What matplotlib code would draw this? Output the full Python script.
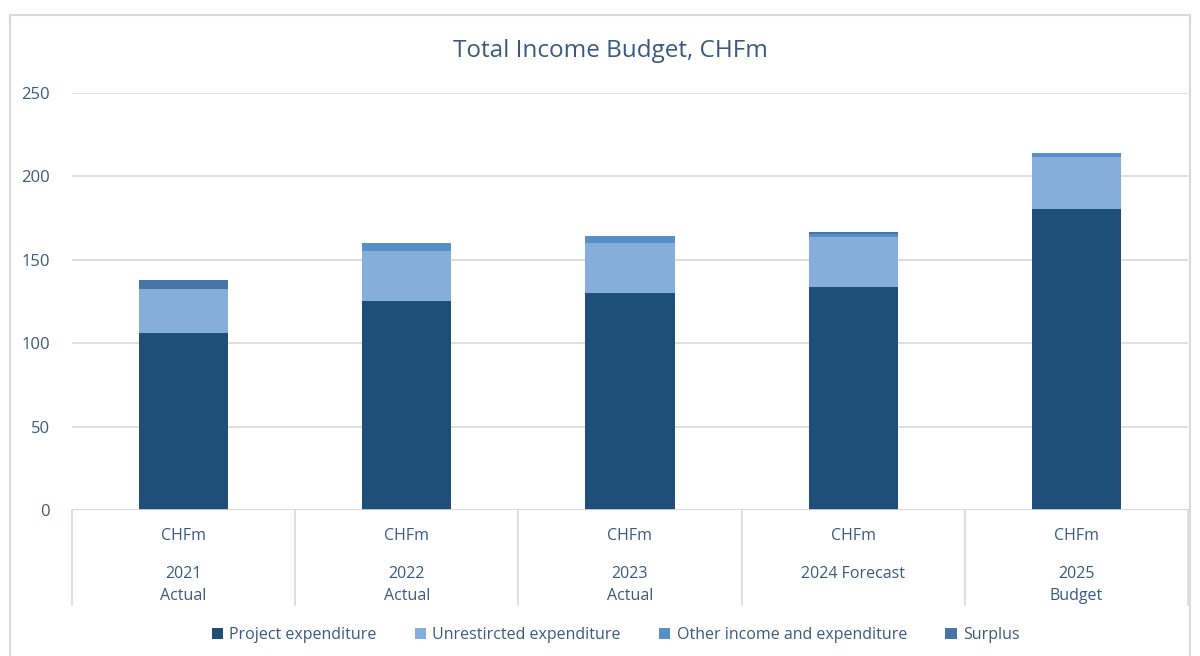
"""Stacked bar chart of the total income budget, CHFm."""

import matplotlib

matplotlib.use("Agg")
import matplotlib.pyplot as plt
import matplotlib.transforms as mtransforms
from matplotlib.patches import Rectangle

# Data

years = ["2021", "2022", "2023", "2024 Forecast", "2025"]
kinds = ["Actual", "Actual", "Actual", "", "Budget"]
unit = "CHFm"
project = [106.3, 125.3, 130.1, 133.7, 180.5]
unrestricted = [26.3, 30.2, 30.2, 29.8, 31.0]
other = [0.0, 4.4, 4.0, 2.0, 2.7]
surplus = [5.3, 0.0, 0.0, 1.0, 0.0]

series = [
    ("Project expenditure", project, "#1f4e79"),
    ("Unrestircted expenditure", unrestricted, "#85aedb"),
    ("Other income and expenditure", other, "#5590c8"),
    ("Surplus", surplus, "#4675a6"),
]

# Style

text_color = "#3a5a80"
grid_color = "#d9d9d9"
plt.rcParams["font.family"] = ["Open Sans", "DejaVu Sans"]

fig = plt.figure(figsize=(12, 6.56), dpi=100)
fig.patches.append(
    Rectangle(
        (10 / 1200, -0.01),
        1180 / 1200,
        1.01 - 15 / 656,
        transform=fig.transFigure,
        fill=False,
        edgecolor=grid_color,
        linewidth=1.5,
    )
)

ax = fig.add_axes([72 / 1200, 146 / 656, 1116 / 1200, 417 / 656])

x = list(range(len(years)))
bottom = [0.0] * len(years)
handles = []
for label, values, color in series:
    bars = ax.bar(x, values, width=0.4, bottom=bottom, color=color, label=label)
    handles.append(bars)
    bottom = [b + v for b, v in zip(bottom, values)]

ax.set_xlim(-0.5, len(years) - 0.5)
ax.set_ylim(0, 250)
ax.set_yticks(range(0, 251, 50))
ax.tick_params(axis="y", length=0, pad=16, labelsize=12, labelcolor=text_color)
ax.set_xticks([])
for spine in ax.spines.values():
    spine.set_visible(False)
ax.grid(axis="y", color=grid_color, linewidth=1.2)
ax.set_axisbelow(True)
ax.axhline(0, color=grid_color, linewidth=1.2)

# Two-level category axis
trans = mtransforms.blended_transform_factory(ax.transData, ax.transAxes)
for i in range(len(years) + 1):
    ax.plot(
        [i - 0.5, i - 0.5],
        [0, -95 / 417],
        transform=trans,
        color=grid_color,
        linewidth=1.2,
        clip_on=False,
    )
for i, (year, kind) in enumerate(zip(years, kinds)):
    ax.text(i, -26 / 417, unit, transform=trans, ha="center", va="center",
            fontsize=11.5, color=text_color)
    ax.text(i, -64 / 417, year, transform=trans, ha="center", va="center",
            fontsize=11.5, color=text_color)
    if kind:
        ax.text(i, -86 / 417, kind, transform=trans, ha="center",
                va="center", fontsize=11.5, color=text_color)

fig.text(0.509, 1 - 51 / 656, "Total Income Budget, CHFm", ha="center",
         va="center", fontsize=17.5, color=text_color)

fig.legend(
    handles=handles,
    loc="center",
    bbox_to_anchor=(0.513, 1 - 635 / 656),
    ncol=4,
    frameon=False,
    fontsize=11.5,
    labelcolor=text_color,
    handlelength=0.7,
    handleheight=0.7,
    handletextpad=0.4,
    columnspacing=2.4,
)

fig.savefig("out.png", dpi=100)
